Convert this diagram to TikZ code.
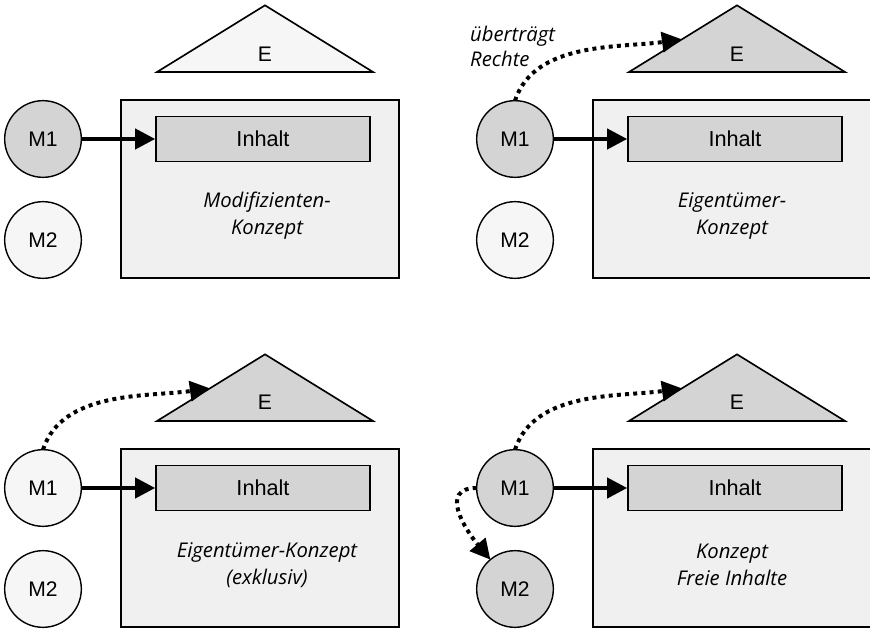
\documentclass[tikz,border=0pt]{standalone}
\usepackage{fontspec}
\setmainfont{Liberation Sans}
\newfontfamily\capfont{Open Sans}
\usepackage{tikz}
\usetikzlibrary{arrows.meta,calc}
\definecolor{greyFill}{RGB}{212,212,212}
\definecolor{lightFill}{RGB}{246,246,246}
\definecolor{boxFill}{RGB}{240,240,240}
\tikzstyle{edge}=[-{Triangle[length=0.6cm,width=0.6cm]}, line width=3.4pt]
\tikzstyle{edgeDotted}=[-{Triangle[length=0.6cm,width=0.6cm]}, line width=3.4pt, dash pattern=on 3.4pt off 3.6pt]
\tikzstyle{greyV}=[circle, fill=greyFill, draw, minimum size=2.3cm, line width=1.2pt, inner sep=0pt, outer sep=0pt, font=\fontsize{18}{22}\selectfont]
\tikzstyle{lightV}=[greyV, fill=lightFill]
\tikzstyle{konzept}=[draw, fill=boxFill, line width=1.4pt, minimum width=8.34cm, minimum height=5.34cm, inner sep=0pt]
\tikzstyle{inhalt}=[draw, fill=greyFill, line width=1.4pt, minimum width=6.42cm, minimum height=1.35cm, inner sep=0pt, font=\fontsize{18.5}{22}\selectfont]
\tikzstyle{caption}=[align=center, inner sep=0pt, font=\capfont\itshape\fontsize{17.3}{23}\selectfont]
\tikzstyle{roof}=[draw, line width=1.4pt, line join=miter]
\tikzstyle{roofText}=[font=\fontsize{18}{22}\selectfont]

\begin{document}
\begin{tikzpicture}
      \useasboundingbox (0,0) rectangle (26.1,18.93);
      %%%%%%%%%%%% Modifizienten-Konzept
      \begin{scope}[yshift=10.47cm]
        \node(K) [konzept] at (7.8, 2.79){};
        \node(I) [inhalt] at (7.89, 4.29){Inhalt};
        \node(M1) [greyV] at (1.29, 4.29){M1};
        \node(M2) [lightV] at (1.29, 1.26){M2};
        \coordinate (L) at (4.71, 6.3);
        \coordinate (A) at (7.95, 8.3);
        \coordinate (R) at (11.19, 6.3);
        \draw[roof, fill=lightFill] (L) -- (A) -- (R) -- cycle;
        \node(E) [roofText] at (7.95, 6.82){E};
        \draw[edge] (M1) to (I);
        \node(C) [caption] at (8.01, 1.98){Modifizienten-\\Konzept};
      \end{scope}
      %%%%%%%%%%%% Eigentuemer-Konzept
      \begin{scope}[xshift=14.16cm, yshift=10.47cm]
        \node(K) [konzept] at (7.8, 2.79){};
        \node(I) [inhalt] at (7.89, 4.29){Inhalt};
        \node(M1) [greyV] at (1.29, 4.29){M1};
        \node(M2) [lightV] at (1.29, 1.26){M2};
        \coordinate (L) at (4.71, 6.3);
        \coordinate (A) at (7.95, 8.3);
        \coordinate (R) at (11.19, 6.3);
        \draw[roof, fill=greyFill] (L) -- (A) -- (R) -- cycle;
        \node(E) [roofText] at (7.95, 6.82){E};
        \coordinate (T) at ($(L)!0.49!(A)$);
        \draw[edge] (M1) to (I);
        \draw[edgeDotted] (M1.north) to[out=72, in=188, looseness=0.9] (T);
        \node(U) [caption, align=left, anchor=west, font=\capfont\itshape\fontsize{17.3}{21.5}\selectfont] at (-0.06, 7.08){überträgt\\Rechte};
        \node(C) [caption] at (7.8, 1.98){Eigentümer-\\Konzept};
      \end{scope}
      %%%%%%%%%%%% Eigentuemer-Konzept (exklusiv)
      \begin{scope}
        \node(K) [konzept] at (7.8, 2.79){};
        \node(I) [inhalt] at (7.89, 4.29){Inhalt};
        \node(M1) [lightV] at (1.29, 4.29){M1};
        \node(M2) [lightV] at (1.29, 1.26){M2};
        \coordinate (L) at (4.71, 6.3);
        \coordinate (A) at (7.95, 8.3);
        \coordinate (R) at (11.19, 6.3);
        \draw[roof, fill=greyFill] (L) -- (A) -- (R) -- cycle;
        \node(E) [roofText] at (7.95, 6.87){E};
        \coordinate (T) at ($(L)!0.49!(A)$);
        \draw[edge] (M1) to (I);
        \draw[edgeDotted] (M1.north) to[out=72, in=188, looseness=0.9] (T);
        \node(C) [caption] at (8.01, 1.98){Eigentümer-Konzept\\(exklusiv)};
      \end{scope}
      %%%%%%%%%%%% Konzept Freie Inhalte
      \begin{scope}[xshift=14.16cm]
        \node(K) [konzept] at (7.8, 2.79){};
        \node(I) [inhalt] at (7.89, 4.29){Inhalt};
        \node(M1) [greyV] at (1.29, 4.29){M1};
        \node(M2) [greyV] at (1.29, 1.26){M2};
        \coordinate (L) at (4.71, 6.3);
        \coordinate (A) at (7.95, 8.3);
        \coordinate (R) at (11.19, 6.3);
        \draw[roof, fill=greyFill] (L) -- (A) -- (R) -- cycle;
        \node(E) [roofText] at (7.95, 6.87){E};
        \coordinate (T) at ($(L)!0.49!(A)$);
        \draw[edge] (M1) to (I);
        \draw[edgeDotted] (M1.north) to[out=72, in=188, looseness=0.9] (T);
        \draw[edgeDotted] (M1.west) to[out=180, in=130, looseness=1.35] (M2.130);
        \node(C) [caption] at (7.8, 1.98){Konzept\\Freie Inhalte};
      \end{scope}
    \end{tikzpicture}
\end{document}
